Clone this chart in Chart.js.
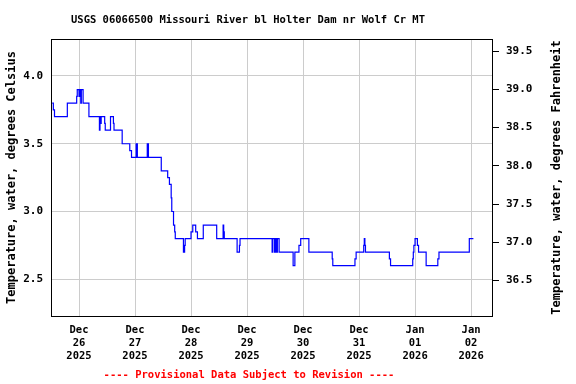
<!DOCTYPE html>
<html><head><meta charset="utf-8">
<script src="https://cdn.jsdelivr.net/npm/chart.js@4"></script>
<style>html,body{margin:0;padding:0;background:#fff}canvas{display:block}</style>
</head><body>
<canvas id="c" width="576" height="384"></canvas>
<script>
const chartTitle = 'USGS 06066500 Missouri River bl Holter Dam nr Wolf Cr MT';
const footerText = '---- Provisional Data Subject to Revision ----';
const leftTitle = 'Temperature, water, degrees Celsius';
const rightTitle = 'Temperature, water, degrees Fahrenheit';

// hours since 2025-12-26 00:00
const hours = [-11.5, -11.0, -10.5, -5.0, -1.0, -0.75, 0, 0.25, 0.75, 1.0, 1.75, 4.25, 8.75, 9.0, 9.25, 9.5, 11.0, 11.25, 13.5, 14.75, 15.0, 18.5, 21.75, 22.5, 24.5, 25.0, 29.25, 29.75, 35.25, 38.0, 38.75, 39.5, 39.75, 40.5, 41.0, 41.25, 44.75, 45.25, 45.5, 48.0, 48.75, 50.0, 50.75, 53.25, 59.0, 61.75, 62.0, 62.25, 67.75, 68.75, 69.0, 82.75, 83.0, 83.75, 84.0, 84.5, 85.0, 85.75, 91.75, 92.5, 94.25, 95.0, 98.5, 108.5, 108.75, 118.25, 118.75, 122.0, 122.25, 122.5, 122.75, 133.0, 133.5, 143.0, 143.25, 143.5, 144.0, 145.0, 145.5, 148.75, 153.75, 154.25, 167.25, 169.0];
const tempC = [3.8, 3.75, 3.7, 3.8, 3.85, 3.9, 3.85, 3.9, 3.8, 3.9, 3.8, 3.7, 3.6, 3.7, 3.65, 3.7, 3.65, 3.6, 3.7, 3.65, 3.6, 3.5, 3.45, 3.4, 3.5, 3.4, 3.5, 3.4, 3.3, 3.25, 3.2, 3.1, 3.0, 2.9, 2.85, 2.8, 2.7, 2.75, 2.8, 2.85, 2.9, 2.85, 2.8, 2.9, 2.8, 2.9, 2.85, 2.8, 2.7, 2.75, 2.8, 2.7, 2.8, 2.7, 2.8, 2.7, 2.8, 2.7, 2.6, 2.7, 2.75, 2.8, 2.7, 2.65, 2.6, 2.65, 2.7, 2.75, 2.8, 2.75, 2.7, 2.65, 2.6, 2.65, 2.7, 2.75, 2.8, 2.75, 2.7, 2.6, 2.65, 2.7, 2.8, 2.8];

const dayTicks = [0, 24, 48, 72, 96, 120, 144, 168];
const dayLabels = [['Dec','26','2025'],['Dec','27','2025'],['Dec','28','2025'],['Dec','29','2025'],['Dec','30','2025'],['Dec','31','2025'],['Jan','01','2026'],['Jan','02','2026']];
const cTicks = [2.5, 3.0, 3.5, 4.0];
const fTicks = [36.5, 37.0, 37.5, 38.0, 38.5, 39.0, 39.5];

const FONT = {family: "'DejaVu Sans Mono', monospace", size: 10.5, weight: 'bold', lineHeight: 1.24};
const YFONT = {family: "'DejaVu Sans Mono', monospace", size: 11, weight: 'bold'};
const CSSFONT = "bold 10.5px 'DejaVu Sans Mono', monospace";
const AXISFONT = "bold 12px 'DejaVu Sans Mono', monospace";

const textPlugin = {
  id: 'texts',
  afterDraw(chart) {
    const ctx = chart.ctx, a = chart.chartArea;
    ctx.save();
    ctx.strokeStyle = '#000'; ctx.lineWidth = 1;
    ctx.strokeRect(Math.round(a.left) + 0.5, Math.round(a.top) + 0.5, Math.round(a.right - a.left) - 1, Math.round(a.bottom - a.top));
    ctx.font = CSSFONT;
    ctx.textAlign = 'center'; ctx.textBaseline = 'middle';
    ctx.fillStyle = '#000';
    ctx.fillText(chartTitle, 248, 20);
    ctx.fillStyle = '#ff0000';
    ctx.fillText(footerText, 249, 375);
    ctx.fillStyle = '#000';
    ctx.font = AXISFONT;
    const cy = (a.top + a.bottom) / 2;
    ctx.save(); ctx.translate(12, cy); ctx.rotate(-Math.PI/2); ctx.fillText(leftTitle, 0, 0); ctx.restore();
    ctx.save(); ctx.translate(557, cy); ctx.rotate(-Math.PI/2); ctx.fillText(rightTitle, 0, 0); ctx.restore();
    ctx.restore();
  }
};

new Chart(document.getElementById('c'), {
  type: 'line',
  data: {
    datasets: [{
      data: hours.map((h, i) => ({x: h, y: tempC[i]})),
      borderColor: '#0000ff',
      borderWidth: 1.2,
      pointRadius: 0,
      stepped: true,
      fill: false,
      yAxisID: 'y'
    }, {
      data: [],
      yAxisID: 'y1'
    }]
  },
  options: {
    responsive: false,
    animation: false,
    layout: {padding: {top: 39, left: 0, right: 0, bottom: 0}},
    plugins: {legend: {display: false}, tooltip: {enabled: false}, title: {display: false}},
    scales: {
      x: {
        type: 'linear', min: -12, max: 177.4,
        afterBuildTicks: s => { s.ticks = dayTicks.map(v => ({value: v})); },
        afterFit: s => { s.height = 68; },
        ticks: {
          font: FONT, color: '#000', padding: 8, maxRotation: 0, autoSkip: false,
          callback: (v) => { const i = dayTicks.indexOf(v); return i >= 0 ? dayLabels[i] : ''; }
        },
        grid: {color: '#cccccc', drawTicks: false, lineWidth: 1},
        border: {display: false}
      },
      y: {
        type: 'linear', position: 'left', min: 2.229, max: 4.273,
        afterBuildTicks: s => { s.ticks = cTicks.map(v => ({value: v})); },
        afterFit: s => { s.width = 51; },
        ticks: {font: YFONT, color: '#000', padding: 8, callback: v => v.toFixed(1)},
        grid: {color: '#cccccc', drawTicks: false, lineWidth: 1},
        border: {display: false}
      },
      y1: {
        type: 'linear', position: 'right', min: 36.034, max: 39.66,
        afterBuildTicks: s => { s.ticks = fTicks.map(v => ({value: v})); },
        afterFit: s => { s.width = 83; },
        ticks: {font: YFONT, color: '#000', padding: 7, callback: v => v.toFixed(1)},
        grid: {drawOnChartArea: false, drawTicks: true, tickLength: 6, tickColor: '#000', color: '#000'},
        border: {display: false}
      }
    }
  },
  plugins: [textPlugin]
});
</script>
</body></html>
